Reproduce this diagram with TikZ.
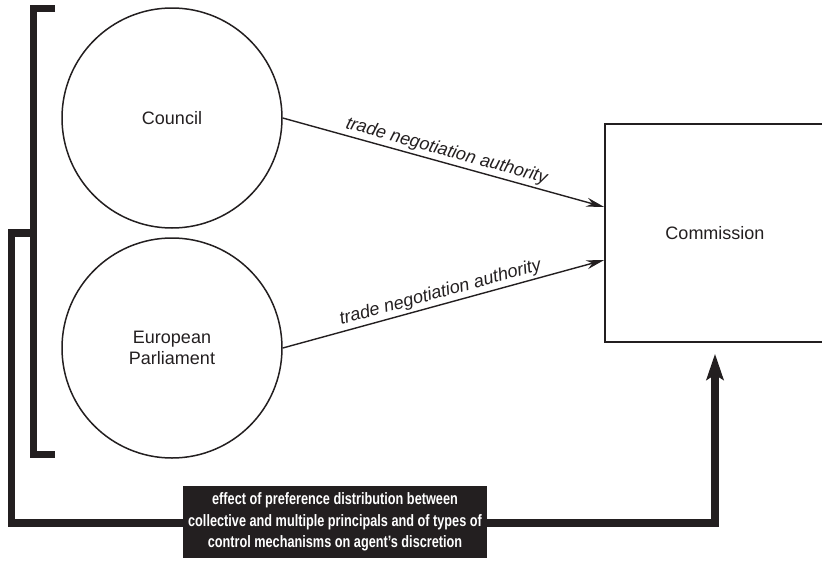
\documentclass[tikz,border=0pt]{standalone}
\usepackage{fontspec}
\setmainfont{Liberation Sans}
\newfontfamily\boxfont[FakeStretch=0.77]{Liberation Sans}
\usetikzlibrary{arrows.meta,calc}
\definecolor{ink}{HTML}{231F20}
\begin{document}
\begin{tikzpicture}[x=1pt,y=-1pt,
  actor/.style={circle,draw=ink,line width=1.5pt,minimum size=220pt,inner sep=0pt,align=center,text=ink,font=\fontsize{18}{21}\selectfont},
  agentbox/.style={rectangle,draw=ink,line width=1.5pt,minimum width=220pt,minimum height=218pt,text=ink,font=\fontsize{18}{21}\selectfont},
  deleg/.style={draw=ink,line width=1.4pt,-{Stealth[length=18pt,width=9pt]}},
  dlabel/.style={sloped,above,pos=0.5,inner sep=2.5pt,text=ink,font=\itshape\fontsize{18}{21}\selectfont},
  bracketline/.style={draw=ink,line width=7pt,miter limit=10},
  fbline/.style={draw=ink,line width=7.5pt,-{Stealth[length=26pt,width=17pt,inset=5pt]}},
  effectbox/.style={rectangle,fill=ink,text=white,inner sep=0pt,minimum width=304pt,minimum height=72pt,align=center,font=\boxfont\bfseries\fontsize{16.5}{21.5}\selectfont}
]
\useasboundingbox (0,0) rectangle (822,560);
\node[actor] (council) at (172,118) {Council};
\node[actor] (ep) at (172,348) {European\\Parliament};
\node[agentbox] (comm) at (715,233) {Commission};
\coordinate (cin) at ($(comm.west)+(0,-26)$);
\coordinate (ein) at ($(comm.west)+(0,27)$);
\draw[deleg] (council.east) -- node[dlabel] {trade negotiation authority} (cin);
\draw[deleg] (ep.east) -- node[dlabel] {trade negotiation authority} (ein);
\draw[bracketline] (55,8.5) -- (33.5,8.5) -- (33.5,454.5) -- (55,454.5);
\coordinate (brk) at (33.5,233);
\coordinate (fbin) at ($(comm.south)+(0,11)$);
\draw[fbline] (brk) -- (11.5,233) -- (11.5,523) -| (fbin);
\node[effectbox] (effect) at (335,522) {effect of preference distribution between\\collective and multiple principals and of types of\\control mechanisms on agent’s discretion};
\end{tikzpicture}
\end{document}
